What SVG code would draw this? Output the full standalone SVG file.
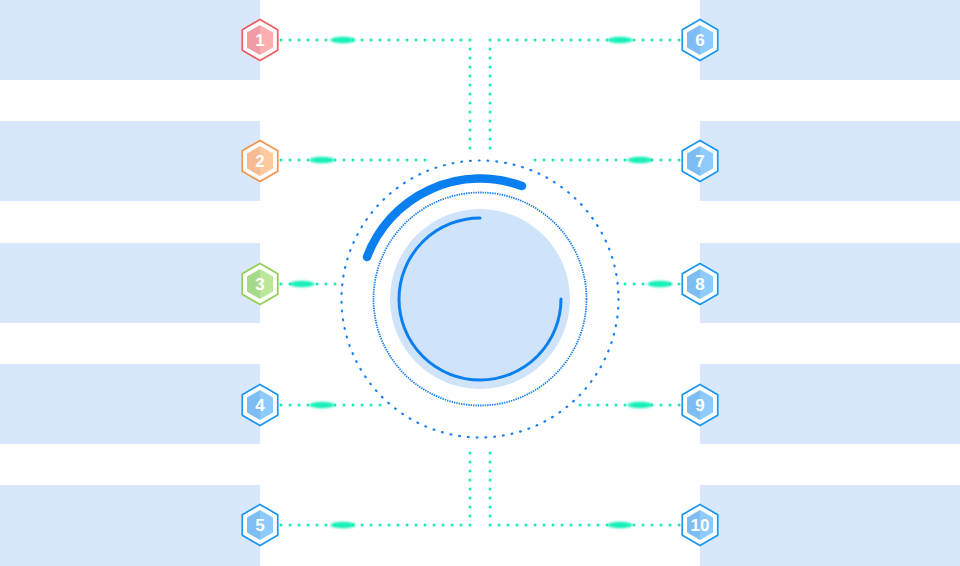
<svg xmlns="http://www.w3.org/2000/svg" width="960" height="566" viewBox="0 0 960 566">
<defs>
<style>
.box{fill:#d8e7fc}
.dl{fill:none;stroke:#19ecb4;stroke-width:3;stroke-linecap:round;stroke-dasharray:0 9}
.glow{fill:#14efb8;filter:url(#blur)}
.num{font-family:"Liberation Sans",Arial,sans-serif;font-size:17px;font-weight:bold;fill:#fff;text-anchor:middle}
.ho{fill:#fff;stroke-width:1.7}
</style>
<filter id="blur" x="-50%" y="-100%" width="200%" height="300%"><feGaussianBlur stdDeviation="1.2"/></filter>
<polygon id="hexO" points="0,-20.5 17.75,-10.25 17.75,10.25 0,20.5 -17.75,10.25 -17.75,-10.25"/>
<polygon id="hexL" points="0,-15 -13,-7.5 -13,7.5 0,15"/>
<polygon id="hexR" points="0,-15 13,-7.5 13,7.5 0,15"/>
</defs>
<rect width="960" height="566" fill="#fff"/>
<g id="boxes">
<rect class="box" x="0" y="0" width="260" height="80"/>
<rect class="box" x="0" y="121" width="260" height="80"/>
<rect class="box" x="0" y="243" width="260" height="80"/>
<rect class="box" x="0" y="364" width="260" height="80"/>
<rect class="box" x="0" y="485" width="260" height="81"/>
<rect class="box" x="700" y="0" width="260" height="80"/>
<rect class="box" x="700" y="121" width="260" height="80"/>
<rect class="box" x="700" y="243" width="260" height="80"/>
<rect class="box" x="700" y="364" width="260" height="80"/>
<rect class="box" x="700" y="485" width="260" height="81"/>
</g>
<g id="connectors">
<path class="dl" d="M281,40 H470 V156"/>
<path class="dl" d="M679,40 H490 V156"/>
<path class="dl" d="M281,160 H428 L431,164"/>
<path class="dl" d="M679,160 H532 L529,164"/>
<path class="dl" d="M281,284 H336"/>
<path class="dl" d="M679,284 H624"/>
<path class="dl" d="M281,405 H388"/>
<path class="dl" d="M679,405 H572"/>
<path class="dl" d="M281,525 H470 V445"/>
<path class="dl" d="M679,525 H490 V445"/>
<ellipse class="glow" cx="343" cy="40" rx="12.5" ry="3.2"/>
<ellipse class="glow" cx="620" cy="40" rx="12.5" ry="3.2"/>
<ellipse class="glow" cx="322" cy="160" rx="12.5" ry="3.2"/>
<ellipse class="glow" cx="640" cy="160" rx="12.5" ry="3.2"/>
<ellipse class="glow" cx="302" cy="284" rx="12.5" ry="3.2"/>
<ellipse class="glow" cx="660" cy="284" rx="12.5" ry="3.2"/>
<ellipse class="glow" cx="322" cy="405" rx="12.5" ry="3.2"/>
<ellipse class="glow" cx="640" cy="405" rx="12.5" ry="3.2"/>
<ellipse class="glow" cx="343" cy="525" rx="12.5" ry="3.2"/>
<ellipse class="glow" cx="620" cy="525" rx="12.5" ry="3.2"/>
</g>
<g id="center">
<circle cx="480" cy="299" r="138.5" fill="none" stroke="#1a7ff0" stroke-width="2.2" stroke-linecap="round" stroke-dasharray="0.8 8"/>
<path d="M367,257 A121,121 0 0 1 522,186" fill="none" stroke="#0a7ff0" stroke-width="8.5" stroke-linecap="round"/>
<circle cx="480" cy="299" r="106.5" fill="none" stroke="#1a7ff0" stroke-width="1.8" stroke-dasharray="1.4 1"/>
<circle cx="480" cy="299" r="90" fill="#cfe4fa"/>
<path d="M480,218 A81,81 0 1 0 561,299" fill="none" stroke="#0a7ff0" stroke-width="3" stroke-linecap="round"/>
</g>
<g id="n1" transform="translate(260,40)"><use href="#hexO" class="ho" stroke="#f25c5c"/><use href="#hexL" fill="#f19ba4"/><use href="#hexR" fill="#fbafaf"/><text class="num" y="6">1</text></g>
<g id="n2" transform="translate(260,161)"><use href="#hexO" class="ho" stroke="#f5934a"/><use href="#hexL" fill="#f6bb92"/><use href="#hexR" fill="#fdc99e"/><text class="num" y="6">2</text></g>
<g id="n3" transform="translate(260,284)"><use href="#hexO" class="ho" stroke="#8fd14f"/><use href="#hexL" fill="#a7d98b"/><use href="#hexR" fill="#bce79a"/><text class="num" y="6">3</text></g>
<g id="n4" transform="translate(260,405)"><use href="#hexO" class="ho" stroke="#1a96f0"/><use href="#hexL" fill="#7dbdf4"/><use href="#hexR" fill="#8ecbfc"/><text class="num" y="6">4</text></g>
<g id="n5" transform="translate(260,525)"><use href="#hexO" class="ho" stroke="#1a96f0"/><use href="#hexL" fill="#7dbdf4"/><use href="#hexR" fill="#8ecbfc"/><text class="num" y="6">5</text></g>
<g id="n6" transform="translate(700,40)"><use href="#hexO" class="ho" stroke="#1a96f0"/><use href="#hexL" fill="#7dbdf4"/><use href="#hexR" fill="#8ecbfc"/><text class="num" y="6">6</text></g>
<g id="n7" transform="translate(700,161)"><use href="#hexO" class="ho" stroke="#1a96f0"/><use href="#hexL" fill="#7dbdf4"/><use href="#hexR" fill="#8ecbfc"/><text class="num" y="6">7</text></g>
<g id="n8" transform="translate(700,284)"><use href="#hexO" class="ho" stroke="#1a96f0"/><use href="#hexL" fill="#7dbdf4"/><use href="#hexR" fill="#8ecbfc"/><text class="num" y="6">8</text></g>
<g id="n9" transform="translate(700,405)"><use href="#hexO" class="ho" stroke="#1a96f0"/><use href="#hexL" fill="#7dbdf4"/><use href="#hexR" fill="#8ecbfc"/><text class="num" y="6">9</text></g>
<g id="n10" transform="translate(700,525)"><use href="#hexO" class="ho" stroke="#1a96f0"/><use href="#hexL" fill="#7dbdf4"/><use href="#hexR" fill="#8ecbfc"/><text class="num" y="6">10</text></g>
</svg>
